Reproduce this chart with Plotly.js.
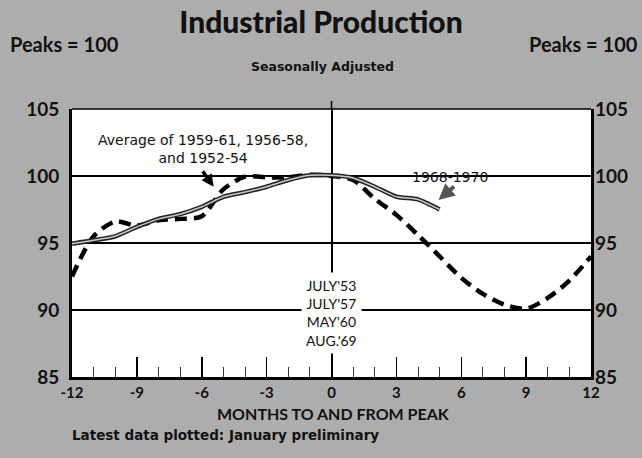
<!DOCTYPE html>
<html>
<head>
<meta charset="utf-8">
<script src="https://cdn.plot.ly/plotly-3.0.1.min.js"></script>
<style>html,body{margin:0;padding:0;background:#adadad;}#chart{width:642px;height:458px;}</style>
</head>
<body>
<div id="chart"></div>
<script>
// Months relative to peak
const monthsRecent = [-12,-11,-10,-9,-8,-7,-6,-5,-4,-3,-2,-1,0,1,2,3,4,5];
// 1968-1970 index (peak = 100)
const recent = [94.95,95.2,95.5,96.2,96.8,97.15,97.7,98.45,98.8,99.2,99.7,100.05,100.05,99.85,99.2,98.45,98.25,97.5];
const monthsAvg = [-12,-11,-10,-9,-8,-7,-6,-5,-4,-3,-2,-1,0,1,2,3,4,5,6,7,8,9,10,11,12];
// Average of 1959-61, 1956-58 and 1952-54
const average = [92.5,95.5,96.6,96.3,96.7,96.8,97.0,99.0,99.95,99.9,99.9,100.1,100.0,99.7,98.3,97.1,95.6,94.0,92.4,91.2,90.4,90.1,90.9,92.2,94.0];
const xTicks = [-12,-9,-6,-3,0,3,6,9,12];
const xTickText = ['-12','-9','-6','-3','0','3','6','9','12'];
const yTicks = [85,90,95,100,105];
const yTickText = ['85','90','95','100','105'];

const FONT = 'Lato, "DejaVu Sans", sans-serif';
const WIDE = '"DejaVu Sans", sans-serif';
const INK = '#111';

const traces = [
  {x: monthsAvg, y: average, mode: 'lines', line: {color: '#000', width: 4.5, dash: '12px,7px', shape: 'spline', smoothing: 0.8}, hoverinfo: 'skip'},
  {x: monthsRecent, y: recent, mode: 'lines', line: {color: '#222', width: 4.5, shape: 'spline', smoothing: 0.6}, hoverinfo: 'skip'},
  {x: monthsRecent, y: recent, mode: 'lines', line: {color: '#c8c8c8', width: 1.5, shape: 'spline', smoothing: 0.6}, hoverinfo: 'skip'},
  {x: [], y: [], yaxis: 'y2', mode: 'lines', hoverinfo: 'skip'}
];

const px = v => (v - 72) / 519;
const py = v => (377 - v) / 268;

const layout = {
  width: 642, height: 458,
  margin: {l: 72, r: 51, t: 109, b: 81, pad: 0},
  paper_bgcolor: '#adadad',
  plot_bgcolor: '#ffffff',
  showlegend: false,
  font: {family: FONT, color: INK},
  title: {text: 'Industrial Production', x: 0.5, xref: 'container', y: 1 - 22/458, yref: 'container', yanchor: 'middle',
          font: {family: FONT, size: 30, weight: 900, color: INK}},
  xaxis: {
    range: [-12, 12], tickvals: xTicks, ticktext: xTickText,
    ticks: 'inside', ticklen: 20, tickwidth: 1.5, tickcolor: '#000',
    minor: {dtick: 1, ticks: 'inside', ticklen: 10, tickwidth: 1, tickcolor: '#333'},
    showgrid: false, zeroline: true, zerolinecolor: '#000', zerolinewidth: 2,
    showline: true, linecolor: '#000', linewidth: 3,
    tickfont: {family: FONT, size: 15, weight: 700, color: INK},
    fixedrange: true
  },
  yaxis: {
    range: [85, 105], tickvals: yTicks, ticktext: yTickText,
    ticks: '', showgrid: true, gridcolor: '#000', gridwidth: 1.2, zeroline: false,
    showline: true, mirror: true, linecolor: '#000', linewidth: 3,
    tickfont: {family: FONT, size: 19, weight: 700, color: INK},
    ticklabelstandoff: 6,
    fixedrange: true
  },
  yaxis2: {
    range: [85, 105], tickvals: yTicks, ticktext: yTickText, overlaying: 'y', side: 'right',
    ticks: '', showgrid: false, zeroline: false, showline: false,
    tickfont: {family: FONT, size: 19, weight: 700, color: INK},
    ticklabelstandoff: 3,
    fixedrange: true
  },
  shapes: [
    {type: 'line', xref: 'paper', yref: 'paper', x0: 0, x1: 1, y0: 1, y1: 1, line: {color: '#000', width: 1.5}},
    {type: 'line', xref: 'x', yref: 'paper', x0: 0, x1: 0, y0: 1, y1: py(101), line: {color: '#000', width: 1.5}}
  ],
  annotations: [
    {xref: 'paper', yref: 'paper', x: px(8), y: py(44), xanchor: 'left', yanchor: 'middle', showarrow: false,
     text: 'Peaks = 100', font: {family: FONT, size: 20, weight: 700, color: INK}},
    {xref: 'paper', yref: 'paper', x: px(640), y: py(44), xanchor: 'right', yanchor: 'middle', showarrow: false,
     text: 'Peaks = 100', font: {family: FONT, size: 20, weight: 700, color: INK}},
    {xref: 'paper', yref: 'paper', x: px(322), y: py(66), xanchor: 'center', yanchor: 'middle', showarrow: false,
     text: 'Seasonally Adjusted', font: {family: WIDE, size: 12.5, weight: 700, color: INK}},
    {xref: 'paper', yref: 'paper', x: px(333), y: py(413), xanchor: 'center', yanchor: 'middle', showarrow: false,
     text: 'MONTHS TO AND FROM PEAK', font: {family: FONT, size: 16, weight: 700, color: INK}},
    {xref: 'paper', yref: 'paper', x: px(70), y: py(435), xanchor: 'left', yanchor: 'middle', showarrow: false,
     text: 'Latest data plotted: January preliminary', font: {family: WIDE, size: 13.5, weight: 700, color: INK}},
    {xref: 'x', yref: 'y', x: -5.95, y: 102.0, xanchor: 'center', yanchor: 'middle', showarrow: false,
     text: 'Average of 1959-61, 1956-58,<br>and 1952-54', font: {family: WIDE, size: 14, color: INK}},
    {xref: 'x', yref: 'y', x: -5.45, y: 99.2, showarrow: true, text: '', arrowhead: 2, arrowsize: 0.7, arrowwidth: 3.5,
     arrowcolor: '#000', ax: -12, ay: -17, standoff: 0},
    {xref: 'x', yref: 'y', x: 5.5, y: 99.95, xanchor: 'center', yanchor: 'middle', showarrow: false,
     text: '1968-1970', font: {family: WIDE, size: 14, color: INK}},
    {xref: 'x', yref: 'y', x: 4.95, y: 98.2, showarrow: true, text: '', arrowhead: 2, arrowsize: 0.8, arrowwidth: 4,
     arrowcolor: '#555', ax: 17, ay: -15, standoff: 0},
    {xref: 'x', yref: 'y', x: 0, y: 89.75, xanchor: 'center', yanchor: 'middle', showarrow: false,
     text: "JULY'53<br>JULY'57<br>MAY'60<br>AUG.'69", bgcolor: '#ffffff', borderpad: 4,
     font: {family: FONT, size: 14, color: INK}}
  ]
};

Plotly.newPlot('chart', traces, layout, {staticPlot: true, displayModeBar: false});
</script>
</body>
</html>
